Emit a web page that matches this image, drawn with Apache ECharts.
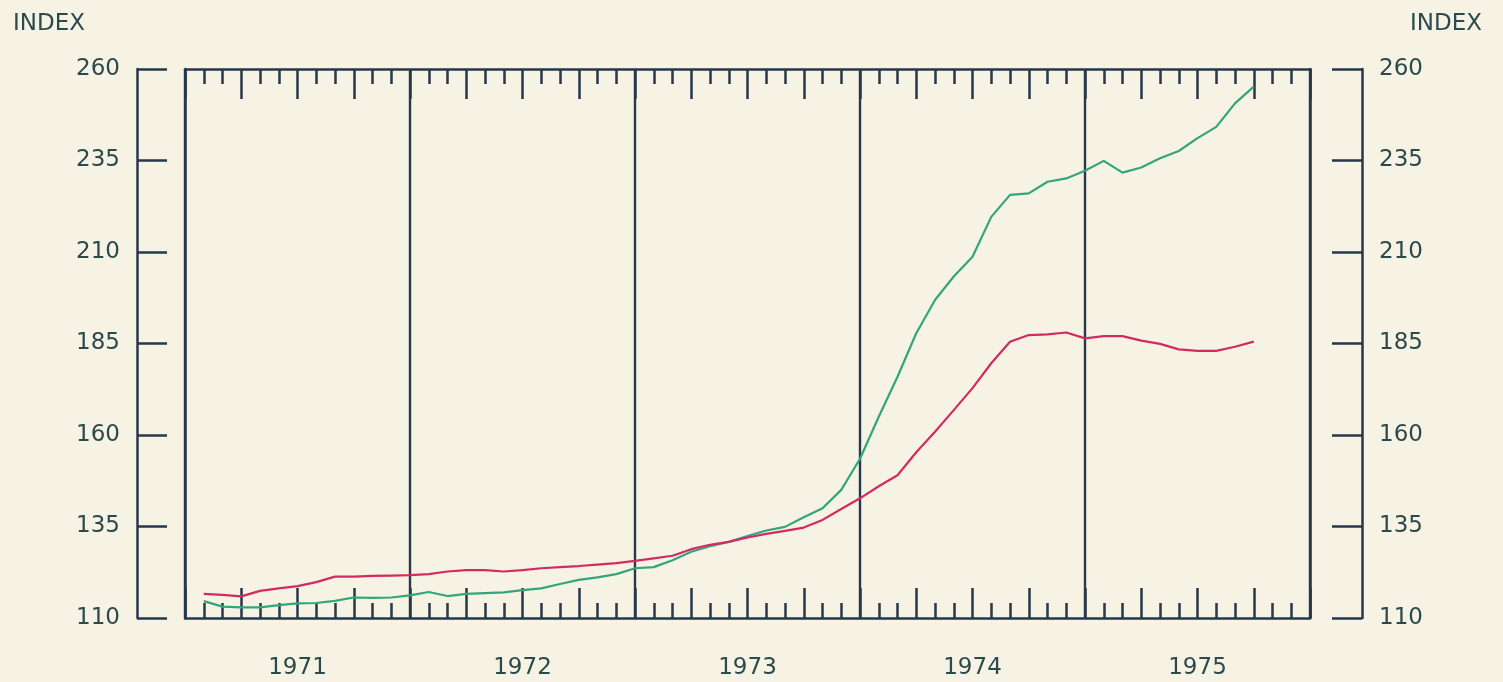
<!DOCTYPE html>
<html>
<head>
<meta charset="utf-8">
<script src="https://cdn.jsdelivr.net/npm/echarts@6/dist/echarts.min.js"></script>
<style>
html,body{margin:0;padding:0;background:#f6f3e5;}
#chart{width:1503px;height:682px;}
</style>
</head>
<body>
<div id="chart"></div>
<script>
// Monthly index values, Jan 1971 .. Sep 1975 (month 1..57)
const greenSeries = [
  114.6,113.1,112.9,112.9,113.5,114.0,114.1,114.7,115.6,115.5,115.6,116.2,
  117.1,116.0,116.6,116.8,117.0,117.6,118.1,119.3,120.4,121.1,122.0,123.6,
  123.9,125.8,128.1,129.6,130.8,132.4,133.9,134.9,137.5,140.0,145.0,153.5,
  165.0,175.9,187.8,196.9,203.3,208.7,219.6,225.6,226.0,229.2,230.1,232.2,
  234.9,231.7,233.1,235.6,237.6,241.1,244.2,250.6,255.2
];
const redSeries = [
  116.6,116.3,115.9,117.4,118.1,118.7,119.8,121.3,121.3,121.5,121.6,121.7,
  122.0,122.7,123.1,123.1,122.7,123.1,123.6,123.9,124.2,124.6,125.0,125.6,
  126.3,127.0,128.8,130.0,130.8,132.0,133.0,133.8,134.7,136.8,139.8,142.7,
  146.0,149.0,155.3,160.9,166.8,172.8,179.6,185.5,187.3,187.5,188.0,186.4,
  187.0,187.0,185.8,184.9,183.4,183.0,183.0,184.1,185.5
];
const yearLabels = ['1971','1972','1973','1974','1975'];
const yTicks = {min:110, max:260, step:25};
const axisTitle = 'INDEX';

const ink = '#26394a';
const txt = '#2c4a4c';
const font = 'DejaVu Sans';
const fs = 23;

const chart = echarts.init(document.getElementById('chart'));

const baseX = (pos) => ({
  type:'value', position:pos, min:0, max:60, interval:3,
  axisLine:{show:true, onZero:false, lineStyle:{color:ink, width:2.5}},
  axisTick:{show:true, inside:true, length:30, lineStyle:{color:ink, width:2.5}},
  minorTick:{show:true, splitNumber:3, length:15, lineStyle:{color:ink, width:2.5}},
  axisLabel:{show:false}, splitLine:{show:false}
});

const yAx = (pos, off, align) => ({
  type:'value', position:pos, offset:off, min:yTicks.min, max:yTicks.max, interval:yTicks.step,
  axisLine:{show:true, onZero:false, lineStyle:{color:ink, width:2.5}},
  axisTick:{show:true, inside:true, length:30, lineStyle:{color:ink, width:2.5}},
  axisLabel:{show:true, margin:17, color:txt, fontFamily:font, fontSize:fs, align:align},
  splitLine:{show:false}
});

const yBorder = (pos) => ({
  type:'value', position:pos, offset:0, min:yTicks.min, max:yTicks.max, interval:yTicks.step,
  axisLine:{show:true, onZero:false, lineStyle:{color:ink, width:2.5}},
  axisTick:{show:false}, axisLabel:{show:false}, splitLine:{show:false}
});

chart.setOption({
  backgroundColor:'#f6f3e5',
  animation:false,
  title:[
    {text:axisTitle, left:8, top:8, textStyle:{color:txt, fontFamily:font, fontSize:fs, fontWeight:'normal'}},
    {text:axisTitle, right:16, top:8, textStyle:{color:txt, fontFamily:font, fontSize:fs, fontWeight:'normal'}}
  ],
  grid:{left:185, right:193, top:69, bottom:64, show:false},
  xAxis:[
    baseX('bottom'),
    baseX('top'),
    {type:'value', position:'bottom', min:0, max:60, interval:12,
     axisLine:{show:false}, axisTick:{show:false}, axisLabel:{show:false},
     splitLine:{show:true, showMinLine:true, showMaxLine:true, lineStyle:{color:ink, width:2.4}}},
    {type:'value', position:'bottom', min:0, max:60, interval:6,
     axisLine:{show:false}, axisTick:{show:false}, splitLine:{show:false},
     axisLabel:{show:true, margin:39, color:txt, fontFamily:font, fontSize:fs,
       showMinLabel:false, showMaxLabel:false,
       formatter:(v)=> (v % 12 === 6) ? yearLabels[(v-6)/12] : ''}}
  ],
  yAxis:[
    yAx('left', 48, 'right'),
    yAx('right', 52, 'left'),
    yBorder('left'),
    yBorder('right')
  ],
  series:[
    {type:'line', name:'green', xAxisIndex:0, yAxisIndex:0, symbol:'none', smooth:false,
     lineStyle:{color:'#33a57b', width:2.2}, data:greenSeries.map((v,i)=>[i+1,v]), z:5},
    {type:'line', name:'red', xAxisIndex:0, yAxisIndex:0, symbol:'none', smooth:false,
     lineStyle:{color:'#d22a63', width:2.2}, data:redSeries.map((v,i)=>[i+1,v]), z:5}
  ]
});
</script>
</body>
</html>
